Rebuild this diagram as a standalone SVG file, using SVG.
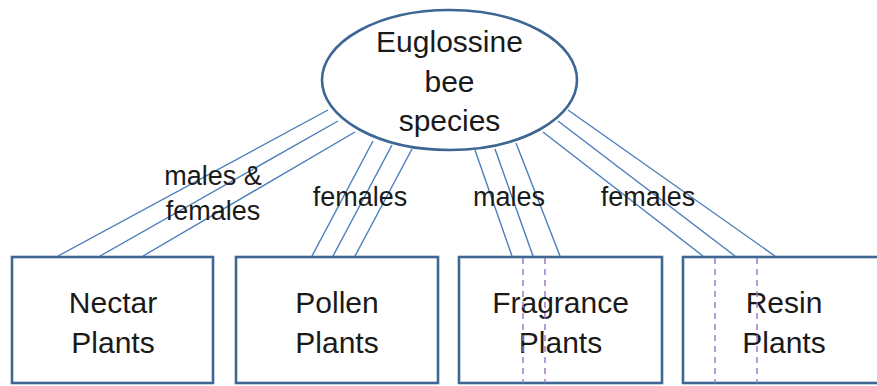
<svg xmlns="http://www.w3.org/2000/svg" width="877" height="386" viewBox="0 0 877 386">
<style>
.node{fill:#fff;stroke:#3d6694;stroke-width:2.6}
.t{font-family:"Liberation Sans",Arial,sans-serif;font-size:30px;fill:#1a1a1a;text-anchor:middle}
.lbl{font-family:"Liberation Sans",Arial,sans-serif;font-size:27px;fill:#1a1a1a;text-anchor:middle}
.c{stroke:#4a7ebb;stroke-width:1.4;fill:none}
.d{stroke:#9b72c4;stroke-width:1.4;stroke-dasharray:6,5;fill:none}
</style>
<rect width="877" height="386" fill="#fff"/>
<g id="connectors">
<line class="c" x1="328" y1="110" x2="58" y2="256"/>
<line class="c" x1="338" y1="121" x2="100" y2="256"/>
<line class="c" x1="355" y1="132" x2="143" y2="256"/>
<line class="c" x1="373" y1="141" x2="312" y2="256"/>
<line class="c" x1="392" y1="145" x2="333" y2="256"/>
<line class="c" x1="412" y1="149" x2="355" y2="256"/>
<line class="c" x1="475" y1="150" x2="512" y2="256"/>
<line class="c" x1="495" y1="149" x2="533" y2="256"/>
<line class="c" x1="516" y1="143" x2="560" y2="256"/>
<line class="c" x1="543" y1="132" x2="703" y2="256"/>
<line class="c" x1="558" y1="121" x2="735" y2="256"/>
<line class="c" x1="568" y1="110" x2="775" y2="256"/>
</g>
<g id="bee">
<ellipse class="node" cx="449.5" cy="80" rx="127.5" ry="70"/>
<text class="t" x="449.5" y="52">Euglossine</text>
<text class="t" x="449.5" y="92">bee</text>
<text class="t" x="449.5" y="131">species</text>
</g>
<g id="labels">
<text class="lbl" x="213" y="185">males &amp;</text>
<text class="lbl" x="213" y="220">females</text>
<text class="lbl" x="360" y="206">females</text>
<text class="lbl" x="509" y="206">males</text>
<text class="lbl" x="648" y="206">females</text>
</g>
<g id="nectar">
<rect class="node" x="12" y="257" width="201" height="126"/>
<text class="t" x="113" y="313">Nectar</text>
<text class="t" x="113" y="353">Plants</text>
</g>
<g id="pollen">
<rect class="node" x="236" y="257" width="202" height="126"/>
<text class="t" x="337" y="313">Pollen</text>
<text class="t" x="337" y="353">Plants</text>
</g>
<g id="fragrance">
<rect class="node" x="459" y="257" width="203" height="126"/>
<text class="t" x="560.5" y="313">Fragrance</text>
<text class="t" x="560.5" y="353">Plants</text>
<line class="d" x1="523" y1="258" x2="523" y2="383"/>
<line class="d" x1="545" y1="258" x2="545" y2="383"/>
</g>
<g id="resin">
<rect class="node" x="683" y="257" width="203" height="126"/>
<text class="t" x="784" y="313">Resin</text>
<text class="t" x="784" y="353">Plants</text>
<line class="d" x1="715" y1="258" x2="715" y2="383"/>
<line class="d" x1="757" y1="258" x2="757" y2="383"/>
</g>
</svg>
